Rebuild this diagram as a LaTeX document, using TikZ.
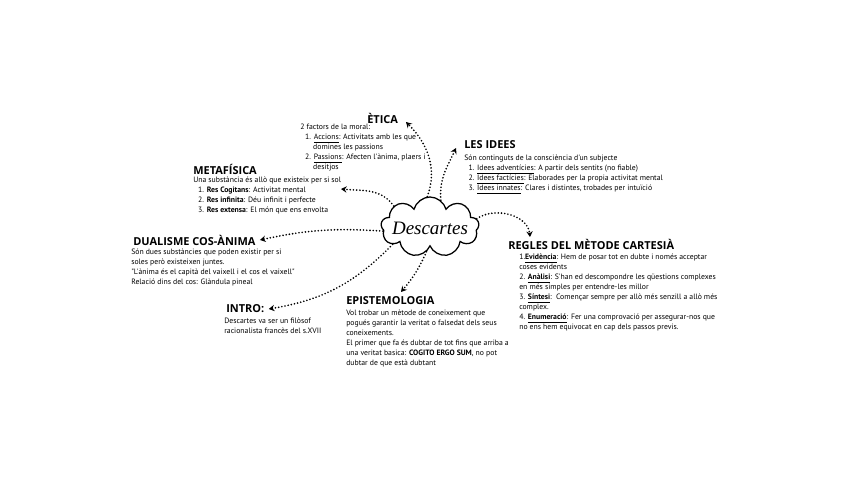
\documentclass[tikz,border=0pt]{standalone}
\usepackage{fontspec}
\usetikzlibrary{arrows.meta,positioning,shapes.symbols}
\newfontfamily\bodyfont{PT Sans}
\newfontfamily\headfont{Open Sans}
\newfontfamily\cloudfont{Liberation Serif}

\begin{document}
\begin{tikzpicture}[x=0.025cm, y=-0.025cm,
    hd/.style={anchor=west, inner sep=0pt, font=\headfont\bfseries\fontsize{7.8}{9}\selectfont},
    tx/.style={anchor=north west, align=left, inner sep=0pt, font=\bodyfont\fontsize{5.5}{7.1}\selectfont},
    cl/.style={cloud, draw, line width=0.9pt, cloud puffs=9, cloud ignores aspect, inner sep=0pt,
               minimum width=2.45cm, minimum height=1.5cm},
    ctx/.style={font=\cloudfont\itshape\fontsize{13.5}{15}\selectfont, inner sep=0pt},
    e/.style={line width=1.3pt, line cap=round, dash pattern=on 0pt off 2.3pt,
              -{Stealth[length=4pt, width=4.5pt]}},
  ]
  \fill[white] (0,0) rectangle (848,477);
  \useasboundingbox (0,0) rectangle (848,477);

  % centre
  \node[cl] (desc) at (430,227) {};
  \node[ctx] (desc-t) at ([yshift=-1pt]desc.center) {Descartes};

  % branches
  \node[hd] (eth) at (367,118) {ÈTICA};
  \node[tx] (eth-b) at (300,124) {2 factors de la moral:\\
    \hspace*{3.5pt}1. \underline{Accions}: Activitats amb les que\\
    \hspace*{9.2pt}domines les passions\\
    \hspace*{3.5pt}2. \underline{Passions}: Afecten l'ànima, plaers i\\
    \hspace*{9.2pt}desitjos};

  \node[hd] (ide) at (464,145) {LES IDEES};
  \node[tx] (ide-b) at (464,155) {Són continguts de la consciència d'un subjecte\\
    \hspace*{3pt}1. \underline{Idees adventícies}: A partir dels sentits (no fiable)\\
    \hspace*{3pt}2. \underline{Idees factícies}: Elaborades per la propia activitat mental\\
    \hspace*{3pt}3. \underline{Idees innates}: Clares i distintes, trobades per intuïció};

  \node[hd] (met) at (193,169) {METAFÍSICA};
  \node[tx] (met-b) at (193,177) {Una substància és allò que existeix per si sol\\
    \hspace*{3.5pt}1. \textbf{Res Cogitans}: Activitat mental\\
    \hspace*{3.5pt}2. \textbf{Res infinita}: Déu infinit i perfecte\\
    \hspace*{3.5pt}3. \textbf{Res extensa}: El món que ens envolta};

  \node[hd] (dua) at (133,240) {DUALISME COS-ÀNIMA};
  \node[tx] (dua-b) at (131,249) {Són dues substàncies que poden existir per si\\
    soles però existeixen juntes.\\
    "L'ànima és el capità del vaixell i el cos el vaixell"\\
    Relació dins del cos: Glàndula pineal};

  \node[hd] (reg) at (508,244) {REGLES DEL MÈTODE CARTESIÀ};
  \node[tx] (reg-b) at (519,254) {1.\textbf{\underline{Evidència}}: Hem de posar tot en dubte i només acceptar\\
    coses evidents\\
    2. \textbf{\underline{Anàlisi}}: S'han ed descompondre les qüestions complexes\\
    en més simples per entendre-les millor\\
    3. \textbf{\underline{Síntesi}}:\ \ Començar sempre per allò més senzill a allò més\\
    complex.\\
    4. \textbf{\underline{Enumeració}}: Fer una comprovació per assegurar-nos que\\
    no ens hem equivocat en cap dels passos previs.};

  \node[hd] (int) at (226,309) {INTRO:};
  \node[tx] (int-b) at (224,318) {Descartes va ser un filòsof\\
    racionalista francès del s.XVII};

  \node[hd] (epi) at (346,301) {EPISTEMOLOGIA};
  \node[tx] (epi-b) at (346,310) {Vol trobar un mètode de coneixement que\\
    pogués garantir la veritat o falsedat dels seus\\
    coneixements.\\
    El primer que fa és dubtar de tot fins que arriba a\\
    una veritat basica: \textbf{COGITO ERGO SUM}, no pot\\
    dubtar de que està dubtant};

  % arrow ends
  \coordinate (eth-in) at (406,122);
  \coordinate (ide-in) at (456,148);
  \coordinate (met-in) at (341,189);
  \coordinate (epi-in) at (401,292);
  \coordinate (reg-in) at (530,237);

  \draw[e] (desc.95) to[out=70, in=-45] (eth-in);
  \draw[e] (desc.68) to[out=95, in=-115] (ide-in);
  \draw[e] (desc.150) to[out=125, in=-5] (met-in);
  \draw[e] (desc.185) to[bend right=8] ([xshift=3pt]dua.east);
  \draw[e] (desc.205) to[bend left=18] ([xshift=3pt]int.east);
  \draw[e] (desc.262) to[bend left=8] (epi-in);
  \draw[e] (desc.10) to[out=35, in=95] (reg-in);
\end{tikzpicture}
\end{document}
